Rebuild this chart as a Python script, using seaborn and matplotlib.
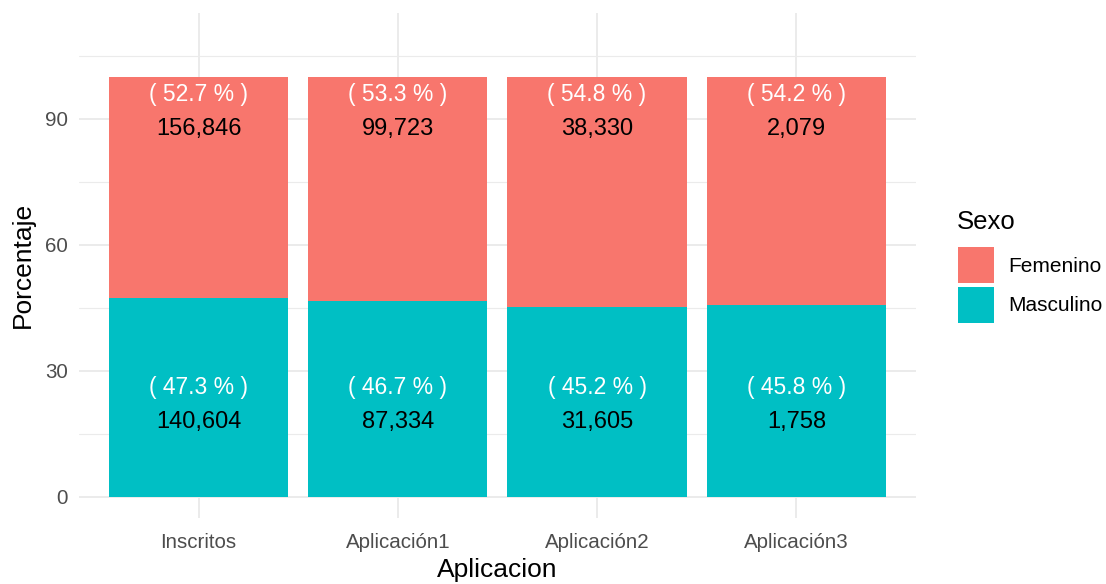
import matplotlib
matplotlib.use("Agg")
import matplotlib.pyplot as plt
import seaborn as sns
import pandas as pd
from matplotlib.patches import Patch

# data
aplicacion = ["Inscritos", "Aplicación1", "Aplicación2", "Aplicación3"]
pct_femenino = [52.7, 53.3, 54.8, 54.2]
pct_masculino = [47.3, 46.7, 45.2, 45.8]
n_femenino = [156846, 99723, 38330, 2079]
n_masculino = [140604, 87334, 31605, 1758]

col_fem = "#F8766D"
col_mas = "#00BFC4"

df = pd.DataFrame({
    "Aplicacion": aplicacion,
    "Femenino": pct_femenino,
    "Masculino": pct_masculino,
})
df["Total"] = df["Femenino"] + df["Masculino"]

sns.set_style("white")
plt.rcParams["font.family"] = ["Liberation Sans", "DejaVu Sans"]
plt.rcParams["text.color"] = "black"

fig = plt.figure(figsize=(11.06, 5.84), dpi=100)
ax = fig.add_axes([0.0714, 0.113, 0.7567, 0.865])

# stacked bars: full (Femenino on top) then Masculino at bottom
sns.barplot(data=df, x="Aplicacion", y="Total", color=col_fem, width=0.9,
            saturation=1, errorbar=None, ax=ax, zorder=3)
sns.barplot(data=df, x="Aplicacion", y="Masculino", color=col_mas, width=0.9,
            saturation=1, errorbar=None, ax=ax, zorder=3)
for p in ax.patches:
    p.set_edgecolor("none")

# labels
for i in range(len(aplicacion)):
    ax.text(i, 95.7, f"( {pct_femenino[i]} % )", ha="center", va="center",
            color="white", fontsize=16.5, zorder=4)
    ax.text(i, 87.6, f"{n_femenino[i]:,}", ha="center", va="center",
            color="black", fontsize=17, zorder=4)
    ax.text(i, 26.0, f"( {pct_masculino[i]} % )", ha="center", va="center",
            color="white", fontsize=16.5, zorder=4)
    ax.text(i, 17.8, f"{n_masculino[i]:,}", ha="center", va="center",
            color="black", fontsize=17, zorder=4)

ax.set_xlim(-0.6, 3.6)
ax.set_ylim(-5, 115.2)
ax.set_yticks([0, 30, 60, 90])
ax.set_yticks([15, 45, 75, 105], minor=True)

ax.grid(True, which="major", color="#EBEBEB", linewidth=1.4, zorder=0)
ax.grid(True, which="minor", axis="y", color="#EBEBEB", linewidth=0.8, zorder=0)
ax.set_axisbelow(True)
for s in ax.spines.values():
    s.set_visible(False)
ax.tick_params(axis="both", which="both", length=0, labelsize=14.8,
               labelcolor="#4D4D4D", pad=8)
ax.tick_params(axis="x", pad=11)

ax.set_xlabel("Aplicacion", fontsize=19, color="black", labelpad=4)
ax.set_ylabel("Porcentaje", fontsize=19, color="black", labelpad=7)

# legend (title drawn separately for spacing)
fig.text(957 / 1106, 1 - 222 / 584, "Sexo", fontsize=18.5, color="black",
         ha="left", va="center")
handles = [Patch(facecolor=col_fem, edgecolor="none", label="Femenino"),
           Patch(facecolor=col_mas, edgecolor="none", label="Masculino")]
leg = fig.legend(handles=handles, loc="upper left",
                 bbox_to_anchor=(0.8565, 1 - 237 / 584), frameon=False,
                 fontsize=15, handlelength=1.73, handleheight=2.25,
                 labelspacing=0.2, handletextpad=0.7, borderpad=0)

fig.savefig("out.png", dpi=100)
